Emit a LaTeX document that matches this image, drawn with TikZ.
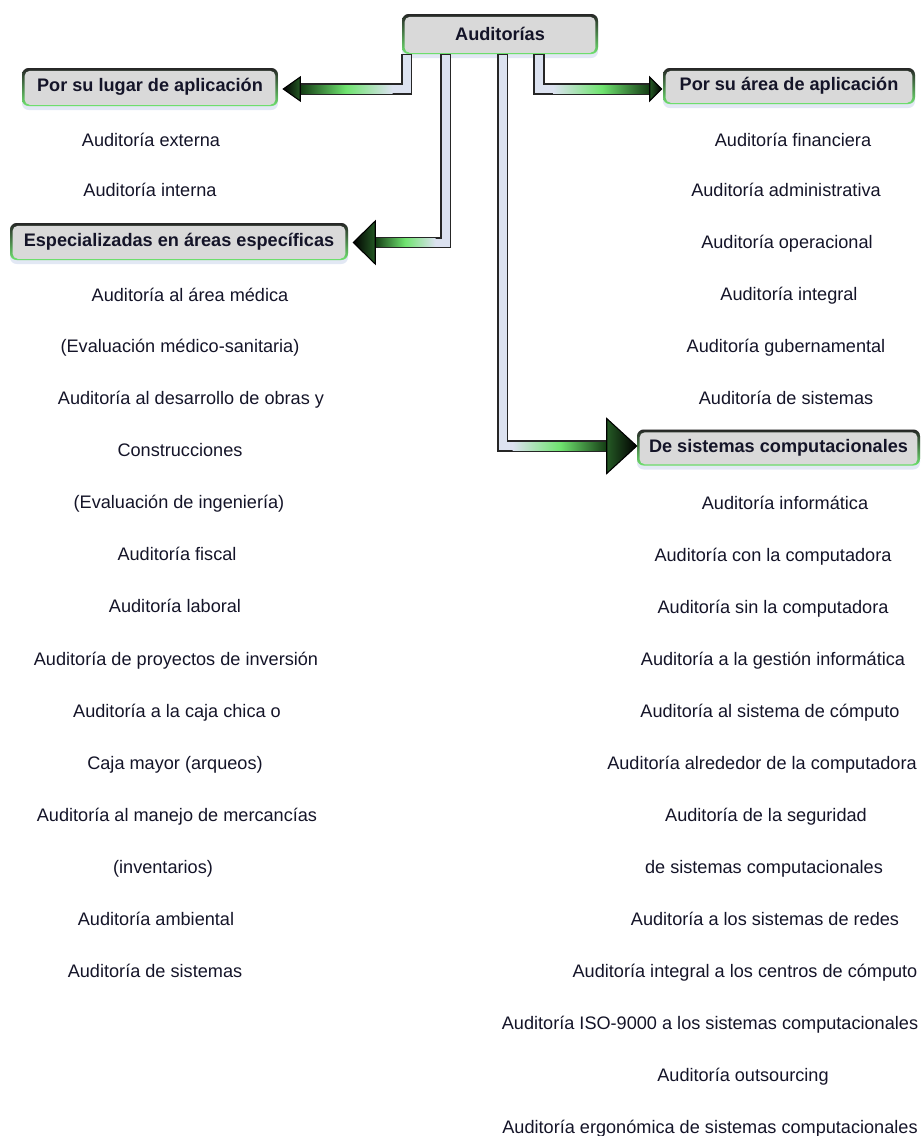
\documentclass[tikz,border=0pt]{standalone}
\usepackage{fontspec}
\setmainfont{Liberation Sans}
\usetikzlibrary{calc,shadows}
\definecolor{boxgray}{HTML}{D9D9D9}
\definecolor{lav}{HTML}{DCE2F0}
\definecolor{edgedark}{HTML}{262626}
\definecolor{glow}{HTML}{6FE36F}
\definecolor{deepgreen}{HTML}{123812}
\definecolor{ink}{HTML}{141428}
\definecolor{shadowblue}{HTML}{E2E8F4}

\begin{document}
\begin{tikzpicture}[x=0.75pt,y=-0.75pt,
  every node/.style={font=\fontsize{13.6}{16}\selectfont, text=ink, inner sep=0pt},
  item/.style={anchor=base},
  hw/.style={minimum width=#1*0.75pt},
  hh/.style={minimum height=#1*0.75pt},
  heading/.style={font=\fontsize{13.6}{16}\selectfont\bfseries,
    fill=boxgray, rounded corners=5pt,
    drop shadow={fill=shadowblue, shadow xshift=0pt, shadow yshift=-3pt, opacity=1},
    path picture={
      \shade[top color=edgedark, bottom color=glow]
        (path picture bounding box.north west) rectangle (path picture bounding box.south east);
      \fill[boxgray, rounded corners=4pt]
        ([shift={(1.9pt,-2.1pt)}]path picture bounding box.north west) rectangle
        ([shift={(-1.9pt,0.9pt)}]path picture bounding box.south east);
    }},
  barout/.style={draw=edgedark, line width=8.4pt, line join=miter, line cap=butt},
  barin/.style={draw=lav, line width=6pt, line join=miter, line cap=butt},
  tipshape/.style={draw=black, line width=0.8pt, line join=miter},
  toleft/.style={left color=deepgreen, right color=lav, middle color=glow},
  toright/.style={left color=lav, right color=deepgreen, middle color=glow},
]
\useasboundingbox (0,0) rectangle (922,1136);

% heading boxes
\node[heading, hw=196, hh=40] (root)  at (500,34)    {Auditorías};
\node[heading, hw=256, hh=38] (lugar) at (150,87)    {Por su lugar de aplicación};
\node[heading, hw=338, hh=37] (espec) at (179,241.5) {Especializadas en áreas específicas};
\node[heading, hw=252, hh=36] (area)  at (789,86)    {Por su área de aplicación};
\node[heading, hw=283, hh=36] (desis) at (778.5,447.5) {De sistemas computacionales};

% vertical bar positions under the root box
\coordinate (x1) at (406.5,0);
\coordinate (x2) at (445.5,0);
\coordinate (x3) at (502.5,0);
\coordinate (x4) at (539,0);

% arrow tips
\coordinate (tip1) at ($(lugar.east)+(5,2)$);
\coordinate (tip2) at ($(espec.east)+(5,1)$);
\coordinate (tip3) at ($(desis.west)+(0,-1.5)$);
\coordinate (tip4) at ($(area.west)+(-1,3)$);

% connector to "Por su lugar de aplicación"
\draw[barout] (x1|-root.south) |- ($(tip1)+(17,0)$);
\draw[barin]  ($(x1|-root.south)+(0,1)$) |- ($(tip1)+(17,0)$);
\shade[toleft] ($(tip1)+(16,-4)$) rectangle ($(x1|-tip1)+(-14,4)$);
\shadedraw[tipshape, left color=black, right color=deepgreen!80!glow]
  (tip1) -- ++(17,-12) -- ++(0,24) -- cycle;

% connector to "Especializadas en áreas específicas"
\draw[barout] (x2|-root.south) |- ($(tip2)+(22,0)$);
\draw[barin]  ($(x2|-root.south)+(0,1)$) |- ($(tip2)+(22,0)$);
\shade[toleft] ($(tip2)+(21,-4)$) rectangle ($(x2|-tip2)+(-10,4)$);
\shadedraw[tipshape, left color=black, right color=deepgreen!80!glow]
  (tip2) -- ++(22,-21.5) -- ++(0,43) -- cycle;

% connector to "De sistemas computacionales"
\draw[barout] (x3|-root.south) |- ($(tip3)+(-30,0)$);
\draw[barin]  ($(x3|-root.south)+(0,1)$) |- ($(tip3)+(-30,0)$);
\shade[toright] ($(x3|-tip3)+(10,-4)$) rectangle ($(tip3)+(-29,4)$);
\shadedraw[tipshape, left color=deepgreen!80!glow, right color=black]
  (tip3) -- ++(-30,-27.5) -- ++(0,55) -- cycle;

% connector to "Por su área de aplicación"
\draw[barout] (x4|-root.south) |- ($(tip4)+(-12,0)$);
\draw[barin]  ($(x4|-root.south)+(0,1)$) |- ($(tip4)+(-12,0)$);
\shade[toright] ($(x4|-tip4)+(14,-4)$) rectangle ($(tip4)+(-11,4)$);
\shadedraw[tipshape, left color=deepgreen!80!glow, right color=black]
  (tip4) -- ++(-12,-12) -- ++(0,24) -- cycle;

% left lists
\node[item] (l1)  at (151,146) {Auditoría externa};
\node[item] (l2)  at (150,196) {Auditoría interna};
\node[item] (l3)  at (190,301) {Auditoría al área médica};
\node[item] (l4)  at (180,352) {(Evaluación médico-sanitaria)};
\node[item] (l5)  at (191,404) {Auditoría al desarrollo de obras y};
\node[item] (l6)  at (180,456) {Construcciones};
\node[item] (l7)  at (179,508) {(Evaluación de ingeniería)};
\node[item] (l8)  at (177,560) {Auditoría fiscal};
\node[item] (l9)  at (175,612) {Auditoría laboral};
\node[item] (l10) at (176,665) {Auditoría de proyectos de inversión};
\node[item] (l11) at (177,717) {Auditoría a la caja chica o};
\node[item] (l12) at (175,769) {Caja mayor (arqueos)};
\node[item] (l13) at (177,821) {Auditoría al manejo de mercancías};
\node[item] (l14) at (163,873) {(inventarios)};
\node[item] (l15) at (156,925) {Auditoría ambiental};
\node[item] (l16) at (155,977) {Auditoría de sistemas};

% right lists
\node[item] (r1)  at (793,146) {Auditoría financiera};
\node[item] (r2)  at (786,196) {Auditoría administrativa};
\node[item] (r3)  at (787,248) {Auditoría operacional};
\node[item] (r4)  at (789,300) {Auditoría integral};
\node[item] (r5)  at (786,352) {Auditoría gubernamental};
\node[item] (r6)  at (786,404) {Auditoría de sistemas};
\node[item] (r7)  at (785,509) {Auditoría informática};
\node[item] (r8)  at (773,561) {Auditoría con la computadora};
\node[item] (r9)  at (773,613) {Auditoría sin la computadora};
\node[item] (r10) at (773,665) {Auditoría a la gestión informática};
\node[item] (r11) at (770,717) {Auditoría al sistema de cómputo};
\node[item] (r12) at (762,769) {Auditoría alrededor de la computadora};
\node[item] (r13) at (766,821) {Auditoría de la seguridad};
\node[item] (r14) at (764,873) {de sistemas computacionales};
\node[item] (r15) at (765,925) {Auditoría a los sistemas de redes};
\node[item] (r16) at (745,977) {Auditoría integral a los centros de cómputo};
\node[item] (r17) at (710,1029) {Auditoría ISO-9000 a los sistemas computacionales};
\node[item] (r18) at (743,1081) {Auditoría outsourcing};
\node[item] (r19) at (710,1133) {Auditoría ergonómica de sistemas computacionales};
\end{tikzpicture}
\end{document}
